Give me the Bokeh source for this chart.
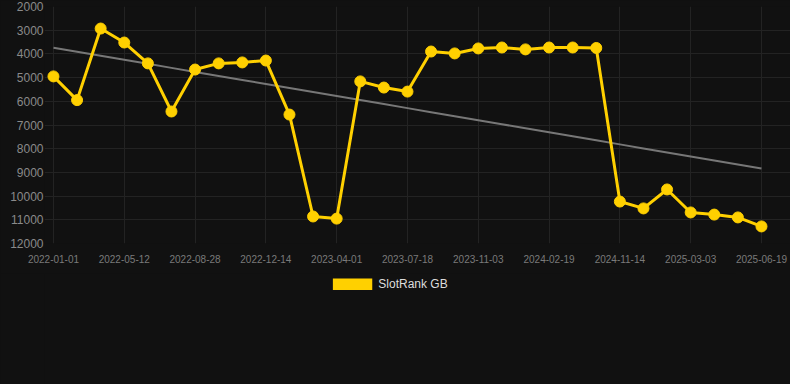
import numpy as np
from bokeh.plotting import figure
from bokeh.layouts import column
from bokeh.models import (ColumnDataSource, Range1d, FixedTicker, Legend, LegendItem)
from bokeh.embed import file_html
from bokeh.resources import INLINE

# ---- data ----
dates = [
    "2022-01-01", "2022-02-14", "2022-04-01", "2022-05-12", "2022-06-17", "2022-07-23",
    "2022-08-28", "2022-10-03", "2022-11-08", "2022-12-14", "2023-01-19", "2023-02-24",
    "2023-04-01", "2023-05-07", "2023-06-12", "2023-07-18", "2023-08-23", "2023-09-28",
    "2023-11-03", "2023-12-09", "2024-01-14", "2024-02-19", "2024-05-20", "2024-08-17",
    "2024-11-14", "2024-12-20", "2025-01-25", "2025-03-03", "2025-04-08", "2025-05-14",
    "2025-06-19",
]
rank = [
    4950, 5950, 2930, 3520, 4400, 6430, 4660, 4400, 4360, 4280,
    6560, 10860, 10950, 5160, 5420, 5590, 3900, 3980, 3770, 3730,
    3810, 3730, 3730, 3750, 10230, 10520, 9720, 10690, 10780, 10900,
    11280,
]
y_ticks = [2000, 3000, 4000, 5000, 6000, 7000, 8000, 9000, 10000, 11000, 12000]
series_name = "SlotRank GB"

BG = "#111111"
GOLD = "#FFD000"
FONT = "Liberation Sans"

idx = list(range(len(dates)))
coef = np.polyfit(idx, rank, 1)
trend = [float(coef[0] * i + coef[1]) for i in idx]

src = ColumnDataSource(dict(x=idx, y=rank, t=trend))

p = figure(frame_width=746, frame_height=237, output_backend="svg", toolbar_location=None,
           x_range=Range1d(-0.38, 31.23), y_range=Range1d(12000, 2000),
           min_border_left=44, min_border_right=0, min_border_top=6, min_border_bottom=30)
p.background_fill_color = BG
p.border_fill_color = BG
p.outline_line_color = None

p.line("x", "t", source=src, line_color="#777777", line_width=2)
p.line("x", "y", source=src, line_color=GOLD, line_width=3)
p.scatter("x", "y", source=src, size=11, fill_color=GOLD, line_color=GOLD)

# axes
p.xaxis.ticker = FixedTicker(ticks=idx[::3])
p.xaxis.major_label_overrides = {i: dates[i] for i in idx[::3]}
p.yaxis.ticker = FixedTicker(ticks=y_ticks)
for ax in (p.xaxis[0], p.yaxis[0]):
    ax.axis_line_color = None
    ax.major_tick_line_color = None
    ax.minor_tick_line_color = None
    ax.major_tick_out = 0
    ax.major_tick_in = 0
    ax.minor_tick_out = 0
    ax.minor_tick_in = 0
    ax.major_label_text_font = FONT
p.yaxis.major_label_text_font_size = "12px"
p.yaxis.major_label_text_color = "#8a8a8a"
p.yaxis.major_label_standoff = 1
p.xaxis.major_label_text_font_size = "10px"
p.xaxis.major_label_text_color = "#7a7a7a"
p.xaxis.major_label_standoff = 11

p.xgrid.grid_line_color = "#232323"
p.ygrid.grid_line_color = "#232323"

# legend strip below the chart (series drawn off-range so only its legend swatch shows)
p2 = figure(width=736, height=111, output_backend="svg", toolbar_location=None,
            x_axis_type=None, y_axis_type=None, min_border=0,
            x_range=Range1d(0, 1), y_range=Range1d(0, 1))
p2.background_fill_color = BG
p2.border_fill_color = BG
p2.outline_line_color = None
swatch = p2.line("x", "y", source=src, line_color=GOLD, line_width=12, line_cap="butt")

legend = Legend(items=[LegendItem(label=series_name, renderers=[swatch])],
                orientation="horizontal", location="top_center",
                glyph_width=40, glyph_height=12, label_standoff=6,
                label_text_font=FONT, label_text_font_size="12px",
                label_text_color="#dddddd", background_fill_alpha=0,
                border_line_color=None, margin=4, padding=0)
p2.add_layout(legend)

layout = column(p, p2, spacing=0, styles={"background-color": BG})

html = file_html(layout, INLINE)
html = html.replace("</head>", "<style>html,body{background:#111111;}</style></head>")
open("out.html", "w").write(html)
